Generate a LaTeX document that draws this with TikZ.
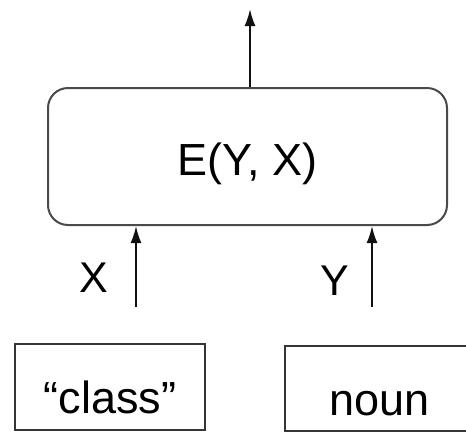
\documentclass[tikz,border=0pt]{standalone}
\usepackage{fontspec}
\setmainfont{Liberation Sans}
\usetikzlibrary{arrows.meta,positioning}
\definecolor{Ink}{HTML}{111111}
\definecolor{Frame}{HTML}{4A4A4A}
\definecolor{Paper}{HTML}{FFFFFF}
\tikzset{
  encoder/.style={
    rounded corners=20pt, draw=Frame, line width=2pt, fill=Paper,
    minimum width=399pt, minimum height=137pt, inner sep=0pt,
    text height=38pt, text depth=0pt, font=\fontsize{45}{54}\selectfont
  },
  token/.style={
    draw=Ink!85, line width=2pt, fill=Paper, inner sep=0pt,
    text height=52pt, text depth=0pt, font=\fontsize{45}{54}\selectfont
  },
  flow/.style={-{Latex[length=17pt,width=11pt]}, line width=2pt, draw=Ink},
  varlabel/.style={font=\fontsize{43}{50}\selectfont, inner sep=0pt}
}
\begin{document}
\begin{tikzpicture}[x=1pt,y=-1pt]
    \useasboundingbox[fill=Paper] (0,0) rectangle (466,432);
    \node[encoder] (enc) at (247.5,156.5) {E(Y, X)};
    \node[token,minimum width=190pt,minimum height=86pt] (cls) at (110,387) {“class”};
    \node[token,minimum width=190pt,minimum height=85pt,text height=53pt] (noun) at (380,388.5) {\hspace*{-1pt}noun};
    \coordinate (xin) at (136,307);
    \coordinate (yin) at (372,307);
    \coordinate (out) at (250,9);
    \draw[flow] (xin)--node[pos=0.36,left=27pt,varlabel]{X}(xin |- enc.south);
    \draw[flow] (yin)--node[pos=0.32,left=22pt,varlabel]{Y}(yin |- enc.south);
    \draw[flow] (enc.north -| out)--(out);
  \end{tikzpicture}
\end{document}
